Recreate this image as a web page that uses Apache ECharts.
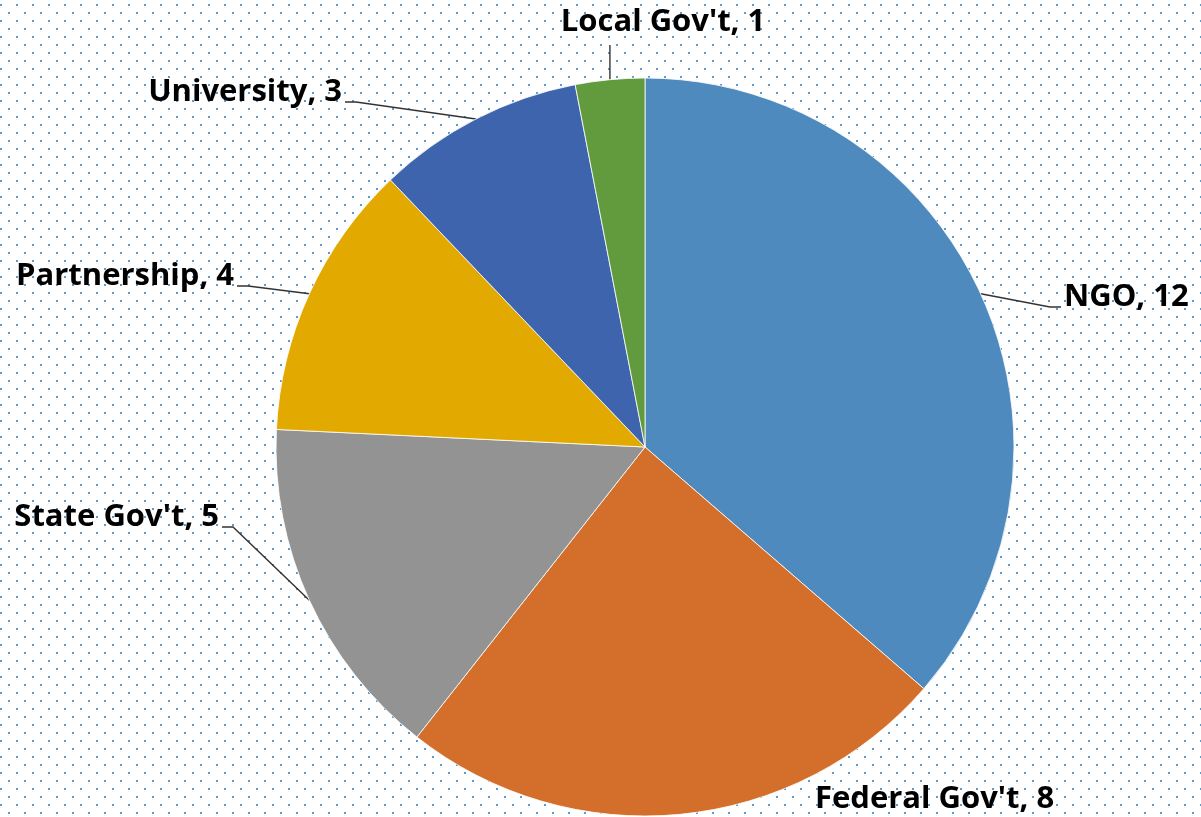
<!DOCTYPE html>
<html>
<head>
<meta charset="utf-8">
<script src="https://cdn.jsdelivr.net/npm/echarts@6/dist/echarts.min.js"></script>
<style>
  html, body { margin: 0; padding: 0; background: #fff; }
  #chart { width: 1201px; height: 817px; }
</style>
</head>
<body>
<div id="chart"></div>
<script>
const categories = ["NGO", "Federal Gov't", "State Gov't", "Partnership", "University", "Local Gov't"];
const counts = [12, 8, 5, 4, 3, 1];
const sliceColors = ["#4E8ABE", "#D36E2B", "#939393", "#E2A900", "#3D64AD", "#629A3E"];

// where each label sits (anchor x, middle y, alignment) and how its leader runs
const labelSpots = [
  { x: 1064, y: 297, align: "left", line: "elbow" },
  { x: 815, y: 799, align: "left", line: "none" },
  { x: 219, y: 517, align: "right", line: "elbow" },
  { x: 234, y: 276, align: "right", line: "elbow" },
  { x: 342, y: 92, align: "right", line: "elbow" },
  { x: 663, y: 22, align: "center", line: "vertical" },
];

const CX = 645, CY = 447, R = 369;
const total = counts.reduce((a, b) => a + b, 0);

// point on the rim at the middle of slice i (clockwise from 12 o'clock)
const rimPoint = (i) => {
  const before = counts.slice(0, i).reduce((a, b) => a + b, 0);
  const mid = ((before + counts[i] / 2) / total) * Math.PI * 2;
  return [CX + R * Math.sin(mid), CY - R * Math.cos(mid)];
};

// dotted background tile
const makeDots = () => {
  const c = document.createElement("canvas");
  c.width = 16;
  c.height = 16;
  const ctx = c.getContext("2d");
  ctx.fillStyle = "#5B9BD5";
  ctx.fillRect(0, 4, 2, 2);
  ctx.fillRect(8, 12, 2, 2);
  return c;
};

const chart = echarts.init(document.getElementById("chart"));

chart.setOption({
  backgroundColor: { image: makeDots(), repeat: "repeat" },
  animation: false,
  series: [
    {
      type: "pie",
      center: [CX, CY],
      radius: R,
      startAngle: 90,
      clockwise: true,
      data: categories.map((name, i) => ({
        name,
        value: counts[i],
        itemStyle: { color: sliceColors[i] },
        labelLine: { show: labelSpots[i].line !== "none" },
      })),
      itemStyle: { borderColor: "rgba(255,255,255,0.8)", borderWidth: 1 },
      label: {
        show: true,
        formatter: "{b}, {c}",
        fontFamily: "'Open Sans', sans-serif",
        fontWeight: "bold",
        fontSize: 31,
        color: "#000",
      },
      labelLine: {
        show: true,
        lineStyle: { color: "#333", width: 1.4 },
      },
      labelLayout: (params) => {
        const i = params.dataIndex;
        const s = labelSpots[i];
        const out = { x: s.x, y: s.y, align: s.align, verticalAlign: "middle" };
        const p0 = rimPoint(i);
        if (s.line === "vertical") {
          out.labelLinePoints = [p0, [p0[0], (p0[1] + 45) / 2], [p0[0], 45]];
        } else if (s.line === "elbow") {
          const dir = s.align === "left" ? -1 : 1;
          const ly = s.y + 10;
          out.labelLinePoints = [p0, [s.x + dir * 14, ly], [s.x + dir * 3, ly]];
        }
        return out;
      },
      emphasis: { disabled: true },
    },
  ],
});
</script>
</body>
</html>
